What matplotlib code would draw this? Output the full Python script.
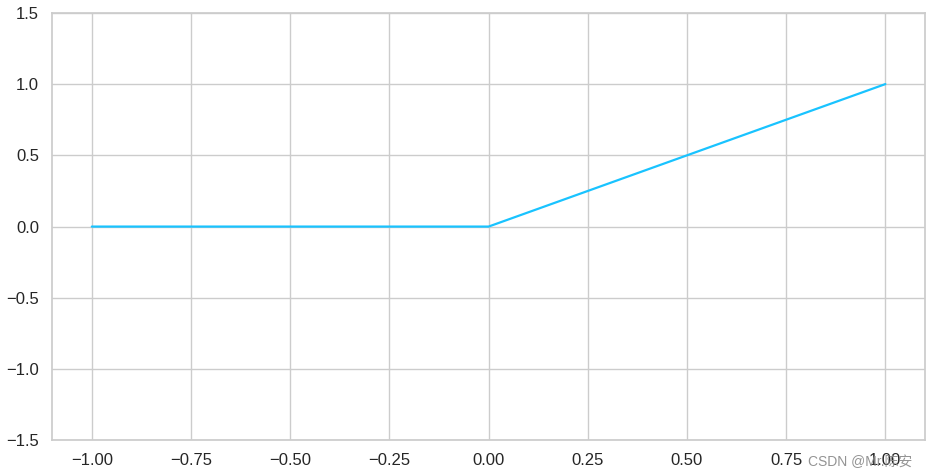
import matplotlib.pyplot as plt
import seaborn as sns

x_vals = [-1.0, -0.5, 0.0, 0.5, 1.0]
y_vals = [0.0, 0.0, 0.0, 0.5, 1.0]
x_ticks = [-1.00, -0.75, -0.50, -0.25, 0.00, 0.25, 0.50, 0.75, 1.00]
y_ticks = [-1.5, -1.0, -0.5, 0.0, 0.5, 1.0, 1.5]

sns.set_theme(style="whitegrid")
plt.rcParams['font.family'] = ['Liberation Sans', 'Noto Sans CJK SC', 'DejaVu Sans']

fig, ax = plt.subplots(figsize=(9.31, 4.76), dpi=100)
ax.plot(x_vals, y_vals, color="#19C3FF", linewidth=1.6)
ax.set_ylim(-1.5, 1.5)
ax.set_xticks(x_ticks)
ax.set_yticks(y_ticks)
ax.set_xticklabels([f"{t:.2f}".replace("-", "\u2212") for t in x_ticks])
ax.set_yticklabels([f"{t:.1f}".replace("-", "\u2212") for t in y_ticks])
ax.tick_params(labelsize=12, colors="#262626")

fig.subplots_adjust(left=0.056, right=0.9936, top=0.973, bottom=0.075)
# marca de agua de la imagen original
fig.text(0.868, 0.022, "CSDN @Mr.陈安", fontsize=10, color="#888888", alpha=0.9)
fig.savefig("out.png")
